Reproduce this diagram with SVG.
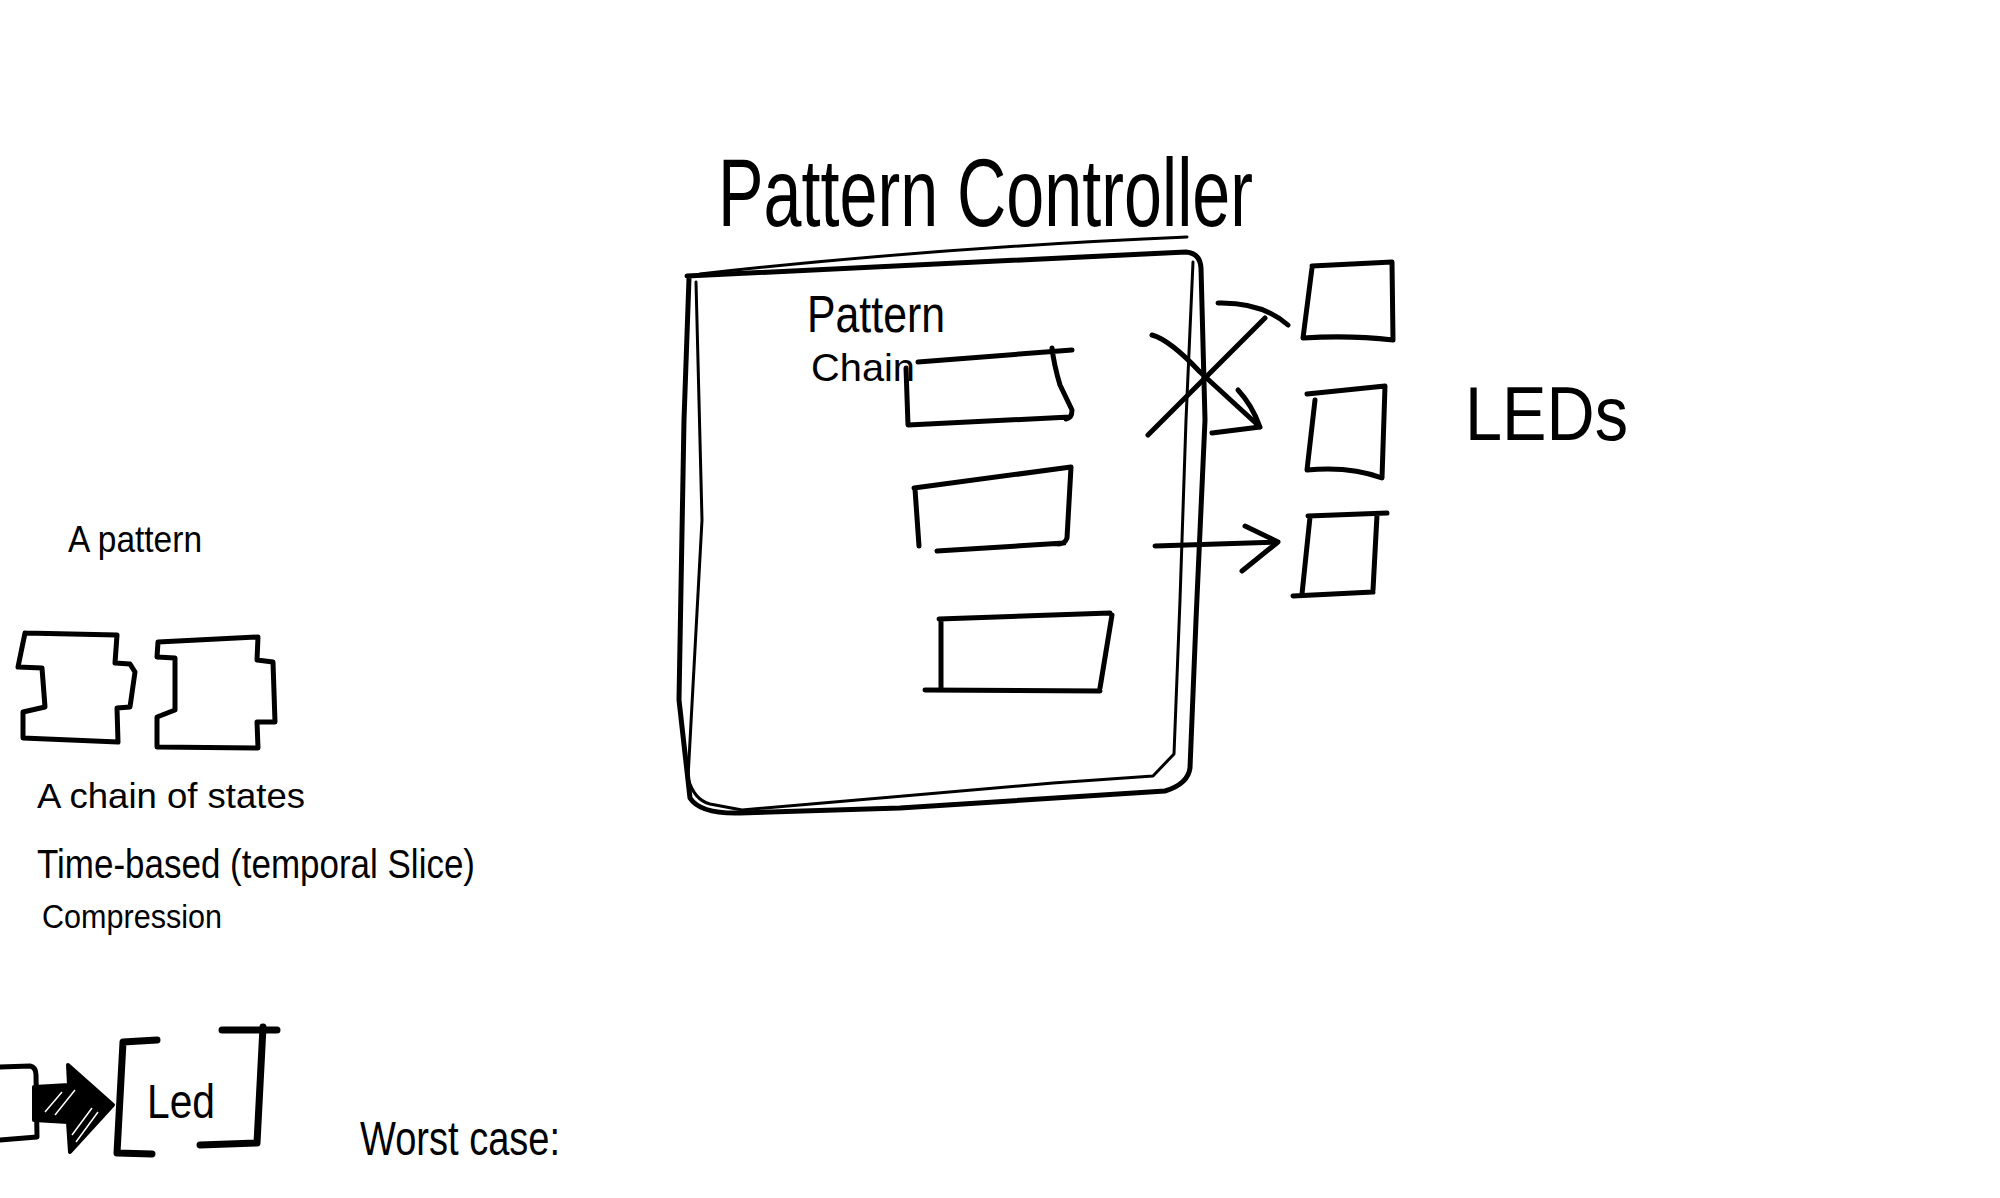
<svg xmlns="http://www.w3.org/2000/svg" width="2000" height="1198" viewBox="0 0 2000 1198">
<style>
.s{fill:none;stroke:#000;stroke-linecap:round;stroke-linejoin:round}
.w5{stroke-width:5}
.w3{stroke-width:3}
.w7{stroke-width:7}
.t{font-family:"Liberation Sans","DejaVu Sans",sans-serif;fill:#000}
</style>
<rect width="2000" height="1198" fill="#fff"/>
<g id="title">
<text class="t" x="718" y="226" font-size="96" textLength="535" lengthAdjust="spacingAndGlyphs">Pattern Controller</text>
<path class="s w3" d="M700,274 Q930,248 1187,237"/>
</g>
<g id="pattern-controller">
<path class="s w5" d="M687,276 L1186,252 Q1200,253 1201,268 L1205,420 L1196,620 L1190,768 Q1188,784 1165,791 L900,808 L740,813 Q700,814 690,798 L679,700 L684,420 L689,278"/>
<path class="s w3" d="M696,282 L702,520 L688,778 Q694,800 710,804 L742,810 L892,797 L1053,783 L1153,776 L1174,754 L1180,600 L1186,420 L1193,262"/>
<text class="t" x="807" y="332" font-size="52" textLength="138" lengthAdjust="spacingAndGlyphs">Pattern</text>
<text class="t" x="811" y="381" font-size="39" textLength="104" lengthAdjust="spacingAndGlyphs">Chain</text>
</g>
<g id="pattern-1">
<path class="s w5" d="M918,362 L1072,350 M906,368 L908,425 L1070,417 M1052,348 Q1054,365 1060,385 L1072,410 Q1072,418 1066,419"/>
</g>
<g id="pattern-2">
<path class="s w5" d="M914,488 L1071,467 L1067,538 Q1065,544 1058,544 M937,551 L1064,543 M915,489 L919,546"/>
</g>
<g id="pattern-3">
<path class="s w5" d="M939,619 L1110,613 M1112,615 L1100,688 M925,690 L1100,691 M941,621 L941,687"/>
</g>
<g id="led-1">
<path class="s w5" d="M1312,266 L1392,262 L1393,340 Q1350,335 1303,338 L1312,268"/>
</g>
<g id="led-2">
<path class="s w5" d="M1307,394 L1385,386 L1382,478 Q1350,466 1307,470 L1315,400"/>
</g>
<g id="led-3">
<path class="s w5" d="M1308,516 L1387,513 M1377,515 L1373,590 M1293,596 L1373,592 M1310,517 L1302,594"/>
</g>
<g id="leds-label">
<text class="t" x="1465" y="440" font-size="76" textLength="163" lengthAdjust="spacingAndGlyphs">LEDs</text>
</g>
<g id="connectors">
<path class="s w5" d="M1148,435 L1265,318 M1218,303 Q1262,302 1288,325"/>
<path class="s w5" d="M1152,335 Q1170,340 1200,372 L1260,427 M1238,390 Q1252,405 1260,427 L1212,433"/>
<path class="s w5" d="M1155,546 L1278,542 M1245,526 L1278,542 L1242,571"/>
</g>
<g id="a-pattern">
<text class="t" x="68" y="552" font-size="37" textLength="134" lengthAdjust="spacingAndGlyphs">A pattern</text>
</g>
<g id="state-1">
<path class="s w5" d="M25,633 L117,635 L115,663 L130,664 L135,672 L130,707 L117,708 L118,742 L23,738 L23,712 L45,707 L42,668 L18,667 L25,633"/>
</g>
<g id="state-2">
<path class="s w5" d="M158,642 L258,637 L257,660 L273,662 L275,722 L257,722 L258,748 L157,747 L157,717 L175,710 L175,658 L157,657 L158,642"/>
</g>
<g id="chain-label">
<text class="t" x="37" y="808" font-size="35" textLength="268" lengthAdjust="spacingAndGlyphs">A chain of states</text>
</g>
<g id="time-label">
<text class="t" x="37" y="878" font-size="40" textLength="438" lengthAdjust="spacingAndGlyphs">Time-based (temporal Slice)</text>
<text class="t" x="42" y="928" font-size="33" textLength="180" lengthAdjust="spacingAndGlyphs">Compression</text>
</g>
<g id="source-box">
<path class="s w5" d="M0,1067 L30,1066 Q36,1067 36,1075 L37,1137 L0,1140"/>
</g>
<g id="big-arrow">
<path d="M34,1087 L69,1085 L68,1065 L113,1105 L70,1152 L68,1122 L34,1120 Z" fill="#000" stroke="#000" stroke-width="4" stroke-linejoin="round"/>
<path d="M45,1112 L62,1092 M55,1115 L75,1090 M72,1135 L92,1108 M76,1142 L98,1112" stroke="#fff" stroke-width="1.5" fill="none"/>
</g>
<g id="led-node">
<path class="s w7" d="M157,1040 L123,1042 L117,1153 L152,1154"/>
<path class="s w7" d="M222,1030 L277,1030 M263,1027 L257,1143 M200,1145 L257,1143"/>
<text class="t" x="147" y="1118" font-size="48" textLength="68" lengthAdjust="spacingAndGlyphs">Led</text>
</g>
<g id="worst-case">
<text class="t" x="360" y="1155" font-size="48" textLength="200" lengthAdjust="spacingAndGlyphs">Worst case:</text>
</g>
</svg>
